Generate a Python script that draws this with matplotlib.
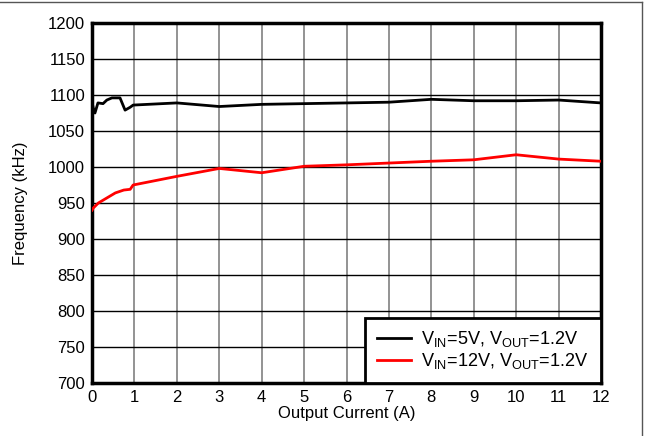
import matplotlib.pyplot as plt
from matplotlib.lines import Line2D

plt.rcParams['font.family'] = ['Liberation Sans', 'DejaVu Sans']
plt.rcParams['mathtext.fontset'] = 'custom'
plt.rcParams['mathtext.rm'] = 'Liberation Sans'

# switching frequency vs load, Vin = 5 V
i_5v = [0.0, 0.03, 0.07, 0.14, 0.26, 0.35, 0.47, 0.66, 0.78, 0.9, 0.97,
        2, 3, 4, 5, 6, 7, 8, 9, 10, 11, 12]
f_5v = [1090, 1082, 1075, 1089, 1088, 1093, 1096, 1096, 1079, 1083, 1086,
        1089, 1084, 1087, 1088, 1089, 1090, 1094, 1092, 1092, 1093, 1089]

# Vin = 12 V
i_12v = [0.0, 0.03, 0.15, 0.35, 0.55, 0.75, 0.9, 0.97,
         2, 3, 4, 5, 6, 7, 8, 9, 10, 11, 12]
f_12v = [940, 943, 950, 957, 964, 968, 969, 975,
         987, 998, 992, 1001, 1003, 1005.5, 1008, 1010, 1017, 1011, 1008]

fig = plt.figure(figsize=(6.46, 4.36), dpi=100)
ax = fig.add_axes([92/646, 53/436, 509/646, 360/436])

ax.plot(i_5v, f_5v, color='black', lw=2, label=r'V$_{\mathrm{IN}}$=5V, V$_{\mathrm{OUT}}$=1.2V', zorder=3)
ax.plot(i_12v, f_12v, color='#ff0000', lw=2, label=r'V$_{\mathrm{IN}}$=12V, V$_{\mathrm{OUT}}$=1.2V', zorder=3)

ax.set_xlim(0, 12)
ax.set_ylim(700, 1200)
ax.set_xticks(range(0, 13))
ax.set_yticks(range(700, 1201, 50))
ax.tick_params(length=0, labelsize=12, pad=5)

for x in range(1, 12):
    ax.axvline(x, color='#808080', lw=1.2, zorder=1)
for y in range(750, 1200, 50):
    ax.axhline(y, color='black', lw=1.0, zorder=1)

for s in ax.spines.values():
    s.set_linewidth(2.5)

ax.set_xlabel('Output Current (A)', fontsize=12, labelpad=1)
ax.set_ylabel('Frequency (kHz)', fontsize=12, labelpad=14)

leg = ax.legend(loc='lower right', fontsize=13.1, frameon=True, fancybox=False,
                borderaxespad=0, handlelength=1.9, handletextpad=0.55,
                labelspacing=0.1, borderpad=0.65)
leg.get_frame().set_edgecolor('black')
leg.get_frame().set_linewidth(2)
leg.get_frame().set_alpha(1)

# outer frame lines at top and right
fig.add_artist(Line2D([0, 642/646], [1 - 2/436, 1 - 2/436], color='#555555', lw=1, transform=fig.transFigure))
fig.add_artist(Line2D([642/646, 642/646], [0, 1 - 2/436], color='#555555', lw=1, transform=fig.transFigure))

fig.savefig('out.png', dpi=100)
